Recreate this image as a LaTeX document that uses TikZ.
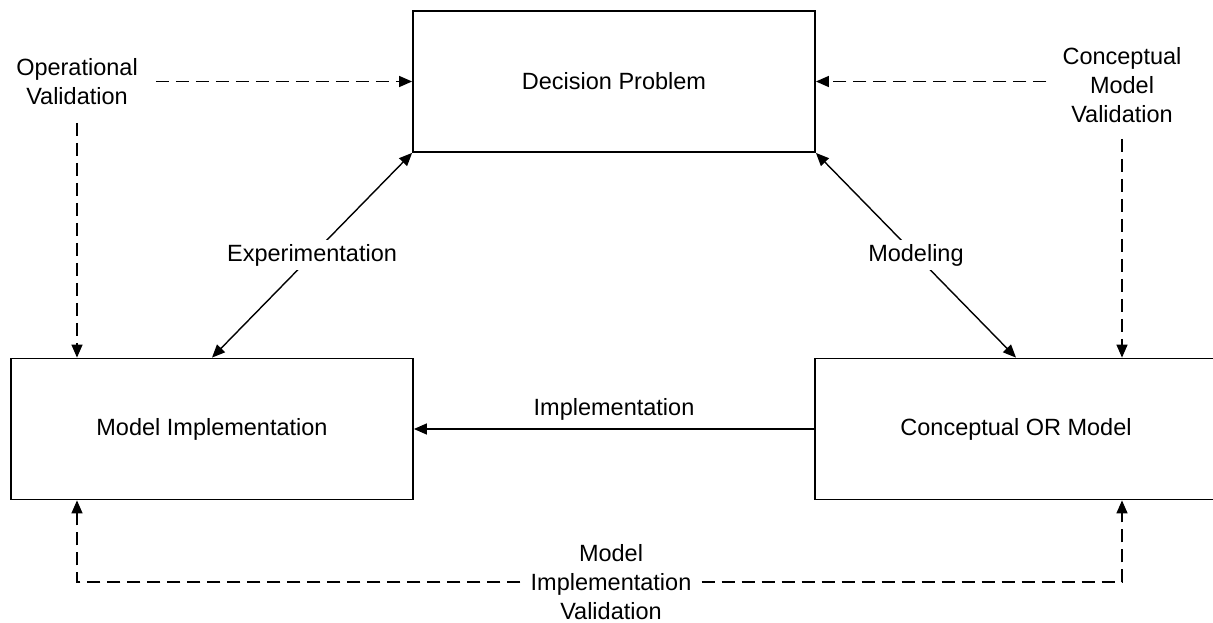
\documentclass[tikz,border=0pt]{standalone}
\usepackage{fontspec}
\setmainfont{Liberation Sans}
\usetikzlibrary{arrows.meta}
\tikzset{box/.style={draw, line width=1.8pt, minimum width=402pt, minimum height=141pt},
 lbl/.style={align=center, inner sep=18pt},
 tag/.style={fill=white, inner sep=4pt},
 arr/.style={line width=1.4pt, -{Triangle[length=13pt,width=11pt]}},
 twoarr/.style={arr, {Triangle[length=13pt,width=11pt]}-{Triangle[length=13pt,width=11pt]}},
 dasharr/.style={arr, dash pattern=on 13pt off 7pt},
 }

\begin{document}
\begin{tikzpicture}[x=1pt, y=-1pt, font=\fontsize{23.5}{29}\selectfont]
        \useasboundingbox (0,0) rectangle (1213,623);

        % boxes
        \node[box] (dp) at (614, 81.5) {Decision Problem};
        \node[box] (mi) at (212, 429) {Model Implementation};
        \node[box] (cm) at (1016, 429) {Conceptual OR Model};

        % validation labels
        \node[lbl] (ov) at (77, 81.5) {Operational\\Validation};
        \node[lbl, inner sep=16pt] (cmv) at (1122, 85) {Conceptual\\Model\\Validation};
        \node[lbl, inner sep=10pt] (miv) at (611, 582) {Model\\Implementation\\Validation};

        % main arrows
        \draw[twoarr] (dp.south west) -- node[tag] {Experimentation} (mi.north);
        \draw[twoarr] (dp.south east) -- node[tag] {Modeling} (cm.north);
        \draw[arr] (cm.west) -- node[above=5pt] {Implementation} (mi.east);

        % validation arrows
        \draw[dasharr] (ov.east) -- (dp.west);
        \draw[dasharr] (ov.south) -- (ov.south |- mi.north);
        \draw[dasharr] (cmv.west |- dp.east) -- (dp.east);
        \draw[dasharr] (cmv.south) -- (cmv.south |- cm.north);
        \draw[dasharr] (miv.west) -| (ov |- mi.south);
        \draw[dasharr] (miv.east) -| (cmv |- cm.south);
    \end{tikzpicture}
\end{document}
